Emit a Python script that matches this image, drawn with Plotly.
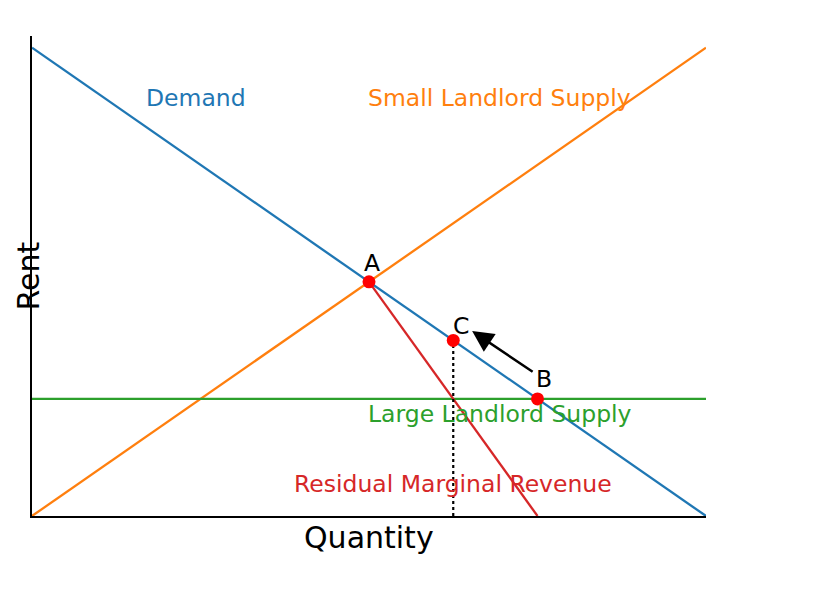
import plotly.graph_objects as go

# Data (model units)
q_line = [0, 10]
demand = [10, 0]
small_supply = [0, 10]
large_supply = [2.5, 2.5]
mr_q = [5, 7.5]
mr_p = [5, 0]
pts_q = [5, 7.5, 6.25]
pts_p = [5, 2.5, 3.75]
pt_labels = ["A", "B", "C"]
pt_label_q = [5.05, 7.6, 6.36]
pt_label_p = [5.40, 2.92, 4.06]
dotted_q = [6.25, 6.25]
dotted_p = [0, 3.75]
arrow_tail = (7.45, 3.06)
arrow_tip = (6.53, 3.95)

line_labels = ["Demand", "Small Landlord Supply", "Large Landlord Supply", "Residual Marginal Revenue"]
line_label_q = [2.43, 6.94, 6.94, 6.25]
line_label_p = [8.92, 8.92, 2.18, 0.68]
line_colors = ["#1f77b4", "#ff7f0e", "#2ca02c", "#d62728"]

FONT = "DejaVu Sans"
fig = go.Figure()
lw = 2.3
fig.add_trace(go.Scatter(x=q_line, y=demand, mode="lines", line=dict(color=line_colors[0], width=lw)))
fig.add_trace(go.Scatter(x=q_line, y=small_supply, mode="lines", line=dict(color=line_colors[1], width=lw)))
fig.add_trace(go.Scatter(x=q_line, y=large_supply, mode="lines", line=dict(color=line_colors[2], width=lw)))
fig.add_trace(go.Scatter(x=mr_q, y=mr_p, mode="lines", line=dict(color=line_colors[3], width=lw)))
fig.add_trace(go.Scatter(x=dotted_q, y=dotted_p, mode="lines", line=dict(color="black", width=2.2, dash="dot")))
fig.add_trace(go.Scatter(x=pts_q, y=pts_p, mode="markers", marker=dict(color="#ff0000", size=13), cliponaxis=False))

annotations = []
for t, x, y, c in zip(line_labels, line_label_q, line_label_p, line_colors):
    annotations.append(dict(x=x, y=y, xref="x", yref="y", text=t, showarrow=False,
                            font=dict(family=FONT, size=23.5, color=c), xanchor="center", yanchor="middle"))
for t, x, y in zip(pt_labels, pt_label_q, pt_label_p):
    annotations.append(dict(x=x, y=y, xref="x", yref="y", text=t, showarrow=False,
                            font=dict(family=FONT, size=23.5, color="black"), xanchor="center", yanchor="middle"))
annotations.append(dict(x=arrow_tip[0], y=arrow_tip[1], ax=arrow_tail[0], ay=arrow_tail[1],
                        xref="x", yref="y", axref="x", ayref="y", text="", showarrow=True,
                        arrowhead=2, arrowsize=1.7, arrowwidth=2.5, arrowcolor="black"))
annotations.append(dict(x=0.5, y=0, xref="paper", yref="paper", text="Quantity", showarrow=False,
                        font=dict(family=FONT, size=30, color="black"), xanchor="center", yanchor="middle",
                        yshift=-21))
annotations.append(dict(x=0, y=0.5, xref="paper", yref="paper", text="Rent", showarrow=False, textangle=-90,
                        font=dict(family=FONT, size=30, color="black"), xanchor="left", yanchor="middle",
                        xshift=-24))

fig.update_layout(
    width=824, height=600,
    margin=dict(l=24, r=126, t=28, b=92),
    paper_bgcolor="white", plot_bgcolor="white",
    showlegend=False,
    annotations=annotations,
    xaxis=dict(range=[0, 10], showgrid=False, zeroline=False, showticklabels=False, ticks="",
               showline=True, linecolor="black", linewidth=2),
    yaxis=dict(range=[0, 10.25], showgrid=False, zeroline=False, showticklabels=False, ticks="",
               showline=True, linecolor="black", linewidth=2),
)
fig.write_html("out.html")
